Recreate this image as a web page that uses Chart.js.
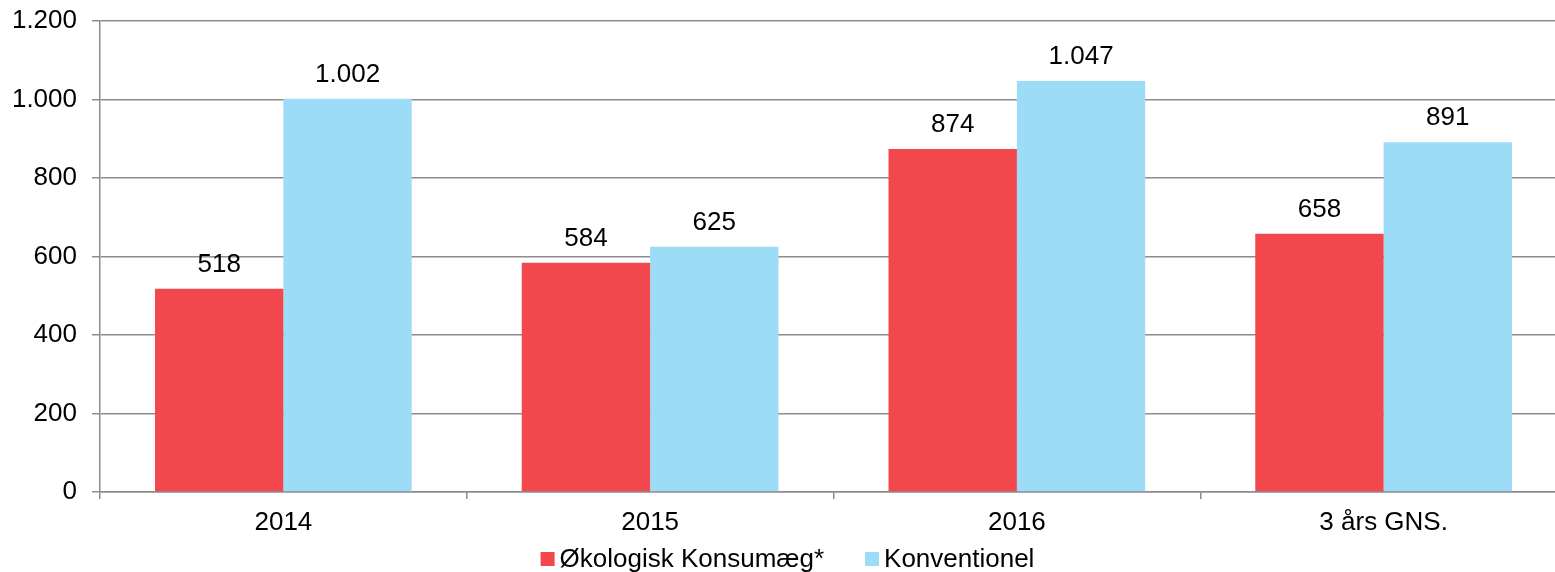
<!DOCTYPE html>
<html>
<head>
<meta charset="utf-8">
<script src="https://cdn.jsdelivr.net/npm/chart.js@4"></script>
<style>
  html, body { margin: 0; padding: 0; background: #fff; overflow: hidden; }
  #wrap { width: 1567px; height: 572px; }
</style>
</head>
<body>
<div id="wrap"><canvas id="kyllingChart"></canvas></div>
<script>
const categories = ["2014", "2015", "2016", "3 års GNS."];
const okologisk = [518, 584, 874, 658];
const konventionel = [1002, 625, 1047, 891];
const yTicks = [0, 200, 400, 600, 800, 1000, 1200];

const gridGray = "#8c8c8c";
const fontFamily = "'Liberation Sans', Arial, sans-serif";
const fontSize = 26;

function fmt(v) {
  return String(v).replace(/\B(?=(\d{3})+(?!\d))/g, ".");
}

// value labels above each bar
const valueLabels = {
  id: "valueLabels",
  afterDatasetsDraw(chart) {
    const ctx = chart.ctx;
    ctx.save();
    ctx.font = fontSize + "px " + fontFamily;
    ctx.fillStyle = "#000";
    ctx.textAlign = "center";
    ctx.textBaseline = "alphabetic";
    chart.data.datasets.forEach((ds, i) => {
      chart.getDatasetMeta(i).data.forEach((bar, j) => {
        ctx.fillText(fmt(ds.data[j]), bar.x, bar.y - 17);
      });
    });
    ctx.restore();
  },
};

// legend at the bottom, drawn like the original (small squares, tight text)
const bottomLegend = {
  id: "bottomLegend",
  afterDraw(chart) {
    const ctx = chart.ctx;
    const box = 14, textGap = 19, itemGap = 41, yMid = 559;
    ctx.save();
    ctx.font = fontSize + "px " + fontFamily;
    ctx.textBaseline = "middle";
    ctx.textAlign = "left";
    const items = chart.data.datasets.map(ds => ({
      text: ds.label,
      color: ds.backgroundColor,
      w: ctx.measureText(ds.label).width,
    }));
    let total = 0;
    items.forEach((it, i) => {
      total += textGap + it.w + (i < items.length - 1 ? itemGap : 0);
    });
    let x = chart.width / 2 - total / 2 + 4;
    items.forEach(it => {
      ctx.fillStyle = it.color;
      ctx.fillRect(x, yMid - box / 2, box, box);
      ctx.fillStyle = "#000";
      ctx.fillText(it.text, x + textGap, yMid + 1);
      x += textGap + it.w + itemGap;
    });
    ctx.restore();
  },
};

const ctx = document.getElementById("kyllingChart").getContext("2d");

new Chart(ctx, {
  type: "bar",
  data: {
    labels: categories,
    datasets: [
      {
        label: "Økologisk Konsumæg*",
        data: okologisk,
        backgroundColor: "#f2474d",
        categoryPercentage: 0.7,
        barPercentage: 1.0,
      },
      {
        label: "Konventionel",
        data: konventionel,
        backgroundColor: "#9cdcf7",
        categoryPercentage: 0.7,
        barPercentage: 1.0,
      },
    ],
  },
  options: {
    responsive: true,
    maintainAspectRatio: false,
    animation: false,
    layout: { padding: { top: 21, left: 0, right: 0, bottom: 0 } },
    plugins: {
      tooltip: { enabled: false },
      legend: { display: false },
    },
    scales: {
      x: {
        grid: {
          drawOnChartArea: false,
          drawTicks: true,
          tickLength: 7,
          color: gridGray,
          lineWidth: 1.5,
        },
        border: { color: gridGray, width: 1.5 },
        ticks: {
          color: "#000",
          padding: 8,
          font: { family: fontFamily, size: fontSize },
        },
        afterFit(scale) {
          scale.height = 80;
          scale.paddingLeft = 0;
          scale.paddingRight = 0;
        },
      },
      y: {
        min: 0,
        max: 1200,
        afterBuildTicks(scale) {
          scale.ticks = yTicks.map(v => ({ value: v }));
        },
        grid: {
          color: gridGray,
          lineWidth: 1.5,
          tickLength: 8,
        },
        border: { color: gridGray, width: 1.5 },
        ticks: {
          color: "#000",
          padding: 15,
          font: { family: fontFamily, size: fontSize },
          callback: v => fmt(v),
        },
        afterFit(scale) {
          scale.width = 100;
          scale.paddingTop = 0;
          scale.paddingBottom = 0;
        },
      },
    },
  },
  plugins: [valueLabels, bottomLegend],
});
</script>
</body>
</html>
